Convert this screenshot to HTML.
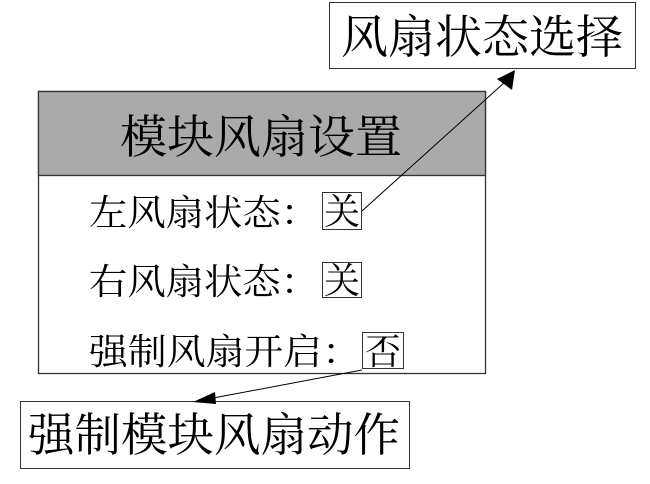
<!DOCTYPE html>
<html><head><meta charset="utf-8"><style>
html,body{margin:0;padding:0;background:#fff;width:650px;height:484px;overflow:hidden}
svg text{font-family:"Liberation Serif","Noto Serif CJK SC",serif;fill:#000}
</style></head><body>
<svg width="650" height="484" viewBox="0 0 650 484" xmlns="http://www.w3.org/2000/svg">
<rect x="0" y="0" width="650" height="484" fill="#fff"/>
<!-- top box -->
<rect x="329.5" y="2.5" width="306" height="66" fill="#fff" stroke="#333" stroke-width="1"/>
<text x="482" y="53" font-size="46" text-anchor="middle" textLength="282" lengthAdjust="spacingAndGlyphs">风扇状态选择</text>
<!-- main panel -->
<rect x="38.5" y="91.5" width="447" height="282" fill="#fff" stroke="#333" stroke-width="1.3"/>
<rect x="38.5" y="91.5" width="447" height="84" fill="#aaaaaa" stroke="#333" stroke-width="1.3"/>
<text x="261" y="153" font-size="46" text-anchor="middle" textLength="282" lengthAdjust="spacingAndGlyphs">模块风扇设置</text>
<text x="89" y="225" font-size="36" textLength="230" lengthAdjust="spacingAndGlyphs">左风扇状态：</text>
<rect x="322.5" y="192.5" width="39" height="37" fill="none" stroke="#333"/>
<text x="342" y="224" font-size="36" text-anchor="middle">关</text>
<text x="89" y="294" font-size="36" textLength="230" lengthAdjust="spacingAndGlyphs">右风扇状态：</text>
<rect x="322.5" y="262.5" width="39" height="35" fill="none" stroke="#333"/>
<text x="342" y="293" font-size="36" text-anchor="middle">关</text>
<text x="89" y="364" font-size="36" textLength="272" lengthAdjust="spacingAndGlyphs">强制风扇开启：</text>
<rect x="362.5" y="332.5" width="41" height="36" fill="none" stroke="#333"/>
<text x="383" y="364" font-size="36" text-anchor="middle">否</text>
<!-- bottom box -->
<rect x="20.5" y="401.5" width="389" height="67" fill="#fff" stroke="#333" stroke-width="1"/>
<text x="214" y="451" font-size="46" text-anchor="middle" textLength="372" lengthAdjust="spacingAndGlyphs">强制模块风扇动作</text>
<!-- arrows -->
<line x1="362" y1="211" x2="505" y2="82" stroke="#000" stroke-width="1"/>
<polygon points="515,70 512,90 497,79" fill="#000"/>
<line x1="362" y1="370" x2="208" y2="399" stroke="#000" stroke-width="1"/>
<polygon points="193,402 215,392 216,404" fill="#000"/>
</svg>
</body></html>
